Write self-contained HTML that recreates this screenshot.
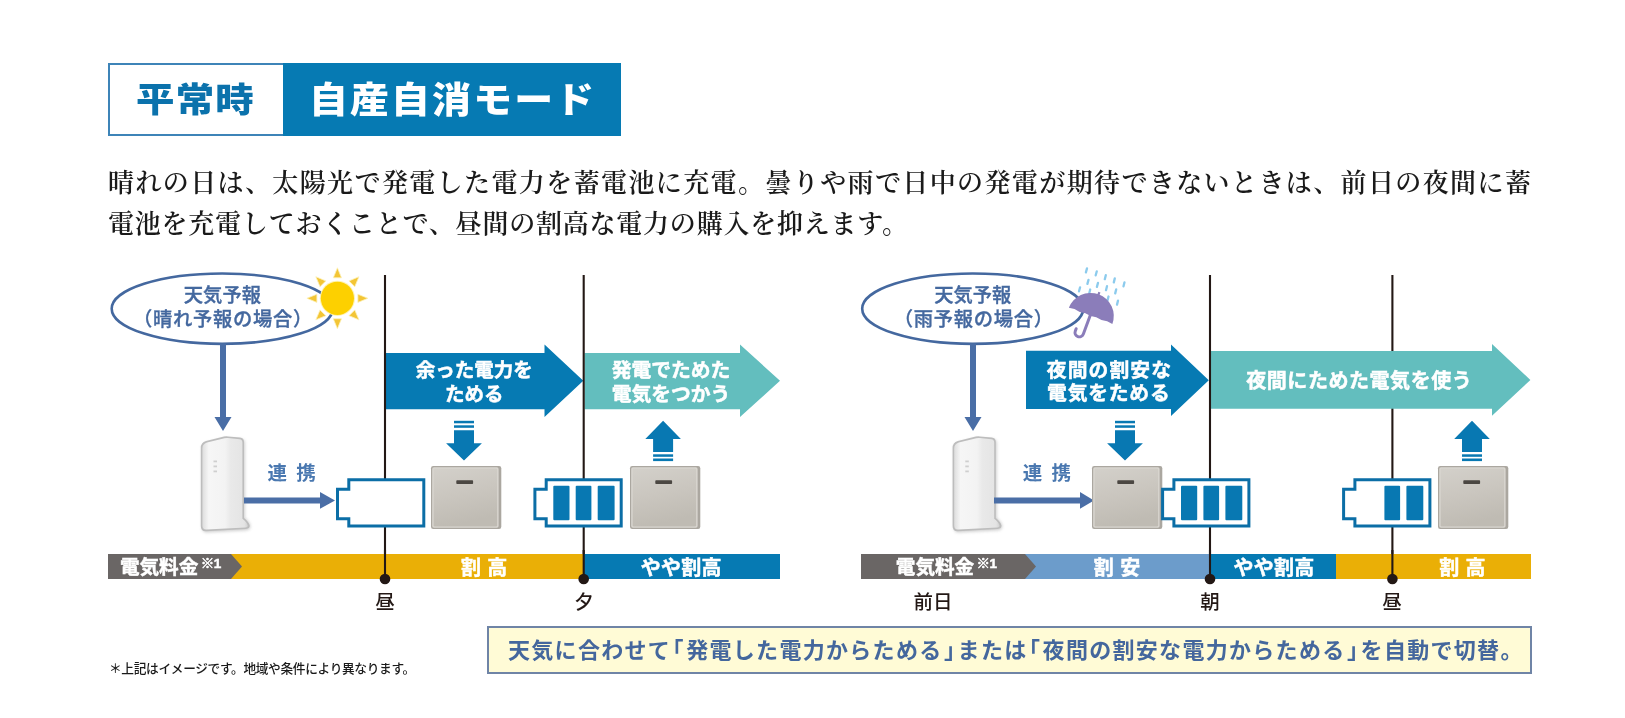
<!DOCTYPE html>
<html lang="ja">
<head>
<meta charset="utf-8">
<title>平常時 自産自消モード</title>
<style>
html,body{margin:0;padding:0;background:#fff;}
body{width:1625px;height:718px;position:relative;overflow:hidden;filter:blur(0.5px);
  font-family:"Liberation Sans","Noto Sans CJK JP","Noto Sans CJK SC",sans-serif;}
.abs{position:absolute;white-space:nowrap;}
.hdr{left:108px;top:63px;width:513px;height:73px;box-sizing:border-box;}
.hdr .l{position:absolute;left:0;top:0;width:176px;height:73px;box-sizing:border-box;border:2px solid #3d84b8;border-right:none;
  color:#0b72ac;font-weight:900;font-size:34px;line-height:70px;white-space:nowrap;}
.hdr .l span{display:inline-block;transform-origin:0 50%;transform:scaleX(1.13);letter-spacing:1.1px;position:absolute;left:25.5px;top:0;}
.hdr .r{position:absolute;left:175px;top:0;width:338px;height:73px;background:#067ab3;color:#fff;font-weight:900;
  font-size:36px;line-height:75px;white-space:nowrap;}
.hdr .r span{display:inline-block;transform-origin:0 50%;transform:scaleX(1.08);letter-spacing:2px;position:absolute;left:25.5px;top:0;}
.para{left:108px;font-family:"Liberation Serif","Noto Serif CJK JP","Noto Serif CJK SC",serif;font-size:26px;line-height:40px;color:#1a1a1a;font-weight:600;}
.note{left:109px;top:661px;font-size:12.7px;line-height:16px;color:#1a1a1a;font-weight:500;letter-spacing:-0.33px;}
.ybox{left:487px;top:625.5px;width:1044.5px;height:48.5px;box-sizing:border-box;border:2px solid #6f84a6;background:#fffbd6;
  color:#44679d;font-weight:700;font-size:22px;line-height:45px;text-align:left;padding-left:19px;letter-spacing:1.3px;}
.ybox i{font-style:normal;font-feature-settings:"halt";margin:0 1.4px;}
svg{position:absolute;left:0;top:0;}
svg text{font-family:"Liberation Sans","Noto Sans CJK JP","Noto Sans CJK SC",sans-serif;}
</style>
</head>
<body>
<div class="abs hdr"><div class="l"><span>平常時</span></div><div class="r"><span>自産自消モード</span></div></div>
<div class="abs para" id="p1" style="top:164px;letter-spacing:1.39px;">晴れの日は、太陽光で発電した電力を蓄電池に充電。曇りや雨で日中の発電が期待できないときは、前日の夜間に蓄</div>
<div class="abs para" id="p2" style="top:205px;letter-spacing:0.78px;">電池を充電しておくことで、昼間の割高な電力の購入を抑えます。</div>

<svg id="dia" width="1625" height="718" viewBox="0 0 1625 718">
<defs>
  <linearGradient id="gUnit" x1="0" y1="0" x2="0.25" y2="1">
    <stop offset="0" stop-color="#d3d0ca"/><stop offset="0.5" stop-color="#cac6bf"/><stop offset="1" stop-color="#bfbbb3"/>
  </linearGradient>
  <linearGradient id="gRouter" x1="0" y1="0" x2="1" y2="0">
    <stop offset="0" stop-color="#dedede"/><stop offset="0.14" stop-color="#f6f6f6"/><stop offset="0.5" stop-color="#f3f3f3"/><stop offset="0.62" stop-color="#e9e9e9"/><stop offset="0.92" stop-color="#e4e4e4"/><stop offset="1" stop-color="#d2d2d2"/>
  </linearGradient>
  <!-- storage unit 70x63 -->
  <g id="unit">
    <rect x="0" y="0" width="70.3" height="63" rx="2.2" fill="#aba7a0"/>
    <rect x="1.2" y="1.2" width="66.4" height="60.6" rx="1.8" fill="#dad7d1"/>
    <rect x="2.6" y="2.6" width="63.6" height="57.8" rx="1.2" fill="url(#gUnit)"/>
    <rect x="25.3" y="14.2" width="16.8" height="3.8" rx="0.8" fill="#4b4742"/>
  </g>
  <!-- router 50x96 -->
  <filter id="soft" x="-30%" y="-10%" width="160%" height="120%"><feGaussianBlur stdDeviation="1.6"/></filter>
  <g id="router">
    <path d="M2 13 Q2 8 7 6.500 L25 2 L41 3 Q45 3.500 45 7 L45 82 Q50 86 50.500 90 Q50.500 94 46 94.500 L7 96.500 Q2 96.500 2 91 Z" fill="#9a9a9a" opacity="0.45" filter="url(#soft)"/>
    <path d="M0.800 12 Q0.800 6.500 6 5 L24 0.600 Q26 0.200 28 0.400 L40 1.600 Q44 2 44 6 L44 82 Q49 86 49.700 89.500 Q49.900 92.500 46 93 L6 95.300 Q0.800 95.500 0.800 90 Z" fill="#bdbdbd"/>
    <path d="M2.400 12.500 Q2.400 8 7 6.600 L24.500 2.300 Q26 2 28 2.100 L39.500 3.200 Q42.400 3.500 42.400 6.500 L42.400 82.800 Q47 86.500 47.800 89.500 Q48 91.300 45.500 91.500 L6.500 93.600 Q2.400 93.800 2.400 89.500 Z" fill="url(#gRouter)"/>
    <rect x="13.500" y="24.500" width="3.500" height="1.800" fill="#cfcfcf"/><rect x="13.500" y="29.500" width="3.500" height="1.800" fill="#cfcfcf"/><rect x="13.500" y="34.500" width="3.500" height="1.800" fill="#cfcfcf"/>
  </g>
  <!-- down arrow, tip at (0,0) pointing down -->
  <g id="darr" fill="#0878b2">
    <rect x="-10" y="-39.8" width="20" height="2.5"/>
    <rect x="-10" y="-35.3" width="20" height="2.5"/>
    <path d="M-10 -30.4 H10 V-17.4 H17.9 L0 0 L-17.9 -17.4 H-10 Z"/>
  </g>
  <g id="uarr" fill="#0878b2">
    <rect x="-10" y="37.7" width="20" height="2.6"/>
    <rect x="-10" y="33.5" width="20" height="2.5"/>
    <path d="M-10 31.2 H10 V18.2 H17.8 L0 0 L-17.8 18.2 H-10 Z"/>
  </g>
</defs>

<!-- ================= LEFT DIAGRAM ================= -->
<!-- vertical guide hidden behind teal arrow -->
<line x1="1392.4" y1="275" x2="1392.4" y2="579" stroke="#231815" stroke-width="2.1"/>
<!-- big arrows -->
<path d="M385.5 353 H544.5 V344.5 L583.3 380.8 L544.5 417 V409.3 H385.5 Z" fill="#067ab3"/>
<path d="M584.5 353 H740 V344.5 L780 380.8 L740 417 V409.3 H584.5 Z" fill="#63bebe"/>
<path d="M1026 350.7 H1171 V344.5 L1208.800 380.300 L1171 416 V409 H1026 Z" fill="#067ab3"/>
<path d="M1210.800 351 H1492 V344 L1530.400 379.900 L1492 415.800 V408.800 H1210.800 Z" fill="#63bebe"/>
<!-- vertical guides -->
<line x1="385" y1="275" x2="385" y2="579" stroke="#231815" stroke-width="2.1"/>
<line x1="583.7" y1="275" x2="583.7" y2="579" stroke="#231815" stroke-width="2.1"/>
<line x1="1210" y1="275" x2="1210" y2="579" stroke="#231815" stroke-width="2.1"/>
<!-- ellipse -->
<ellipse cx="222.2" cy="308.7" rx="110.5" ry="35.2" fill="#fff" stroke="#44689f" stroke-width="2.6"/>
<text x="222.4" y="302" text-anchor="middle" font-size="19.3" font-weight="500" fill="#44689f" stroke="#44689f" stroke-width="0.35">天気予報</text>
<text x="223" y="326.3" text-anchor="middle" font-size="19.3" font-weight="500" fill="#44689f" stroke="#44689f" stroke-width="0.35" letter-spacing="0.7">（晴れ予報の場合）</text>
<!-- sun -->
<g transform="translate(337.4,298.3)">
  <g fill="#f3c535" stroke="#fdf1b8" stroke-width="0.8">
    <path id="ray" d="M-4.1 -20.5 L0 -30.5 L4.1 -20.5 Z"/>
    <use href="#ray" transform="rotate(45)"/><use href="#ray" transform="rotate(90)"/><use href="#ray" transform="rotate(135)"/>
    <use href="#ray" transform="rotate(180)"/><use href="#ray" transform="rotate(225)"/><use href="#ray" transform="rotate(270)"/><use href="#ray" transform="rotate(315)"/>
  </g>
  <circle r="17.6" fill="#fff3b0"/><circle r="16.6" fill="#fdd000"/>
</g>
<!-- arrow down from ellipse -->
<path d="M220 343.5 H226 V417 H231.5 L223 431 L214.5 417 H220 Z" fill="#4a6ea6"/>
<!-- router -->
<use href="#router" x="200" y="436"/>
<!-- link arrow -->
<path d="M244 497.4 H320 V492 L335 500.4 L320 508.8 V503.4 H244 Z" fill="#4a6ea6"/>
<g font-size="19.5" font-weight="700" fill="#4a78b0" text-anchor="middle"><text x="277.3" y="480">連</text><text x="306.1" y="480">携</text></g>
<!-- big arrows -->


<g fill="#fff" stroke="#fff" stroke-width="0.5" font-weight="700" font-size="19.5" text-anchor="middle">
  <text x="474.3" y="377">余った電力を</text>
  <text x="474.3" y="400.5">ためる</text>
  <text x="671" y="377" font-size="19.8">発電でためた</text>
  <text x="671" y="400.5" font-size="19.8">電気をつかう</text>
</g>
<!-- small arrows -->
<use href="#darr" x="464" y="460.6"/>
<use href="#uarr" x="663.1" y="420.8"/>
<!-- empty battery -->
<path d="M348.8 479.7 H423.8 V525.9 H348.8 V518.7 H337.5 V489.3 H348.8 Z" fill="#fff" stroke="#0b6ea6" stroke-width="3"/>
<!-- unit 1 -->
<use href="#unit" x="431" y="466"/>
<!-- full battery -->
<path d="M546.2 479.7 H621.2 V525.9 H546.2 V518.7 H534.9 V489.3 H546.2 Z" fill="#fff" stroke="#0b6ea6" stroke-width="3"/>
<g fill="#0878b2"><rect x="553.3" y="485.8" width="16.2" height="34.5" rx="1"/><rect x="575.7" y="485.8" width="15.7" height="34.5" rx="1"/><rect x="597.7" y="485.8" width="16.9" height="34.5" rx="1"/></g>
<use href="#unit" x="630" y="466"/>
<!-- price bar -->
<rect x="230" y="554" width="354" height="25" fill="#eaaf06"/>
<rect x="584" y="554" width="196" height="25" fill="#067ab3"/>
<path d="M108 554 H231 L242 566.5 L231 579 H108 Z" fill="#6a6665"/>
<g fill="#fff" stroke="#fff" stroke-width="0.5" font-weight="700" text-anchor="middle">
  <text x="159.1" y="574" font-size="19.6">電気料金</text>
  <text x="210.8" y="567.6" font-size="13.5" letter-spacing="-0.5">※1</text>
  <text x="471" y="574.7" font-size="20">割</text><text x="497.2" y="574.7" font-size="20">高</text>
  <text x="681.3" y="574.7" font-size="20" letter-spacing="0.3">やや割高</text>
</g>
<path d="M385 550 V579 M583.7 550 V579" stroke="#231815" stroke-width="2.1" fill="none"/>
<circle cx="385" cy="579" r="5.3" fill="#231815"/>
<circle cx="583.7" cy="579" r="5.3" fill="#231815"/>
<g fill="#231815" font-size="19.5" text-anchor="middle" font-weight="500">
  <text x="385" y="609">昼</text>
  <text x="584" y="609">夕</text>
</g>

<!-- ================= RIGHT DIAGRAM ================= -->
<ellipse cx="972.7" cy="308.7" rx="110.5" ry="35.2" fill="#fff" stroke="#44689f" stroke-width="2.6"/>
<text x="972.8" y="302" text-anchor="middle" font-size="19.3" font-weight="500" fill="#44689f" stroke="#44689f" stroke-width="0.35">天気予報</text>
<text x="973.7" y="326.3" text-anchor="middle" font-size="19.3" font-weight="500" fill="#44689f" stroke="#44689f" stroke-width="0.35" letter-spacing="0.7">（雨予報の場合）</text>
<!-- umbrella + rain -->
<g id="umb">
  <g stroke="#8ccbed" stroke-width="2.3" stroke-linecap="round"><line x1="1087.0" y1="268.4" x2="1085.9" y2="272.4"/><line x1="1096.8" y1="271.3" x2="1095.7" y2="275.3"/><line x1="1105.8" y1="275.2" x2="1104.8" y2="279.2"/><line x1="1114.8" y1="278.4" x2="1113.8" y2="282.4"/><line x1="1124.5" y1="282.3" x2="1123.5" y2="286.3"/><line x1="1088.5" y1="279.9" x2="1087.4" y2="283.9"/><line x1="1098.0" y1="282.9" x2="1096.9" y2="286.9"/><line x1="1107.0" y1="286.2" x2="1106.0" y2="290.2"/><line x1="1116.2" y1="289.4" x2="1115.2" y2="293.4"/><line x1="1080.1" y1="287.3" x2="1079.0" y2="291.3"/><line x1="1090.2" y1="289.5" x2="1089.2" y2="293.5"/><line x1="1108.5" y1="296.5" x2="1107.5" y2="300.5"/><line x1="1118.0" y1="300.6" x2="1117.0" y2="304.6"/></g>
  <g transform="translate(1090.6,315.9) rotate(20.3)">
    <path d="M-0.500 -2 V19.500 a4.300 4.300 0 0 1 -8.600 0 v-2.500" fill="none" stroke="#8b7dba" stroke-width="3" stroke-linecap="round"/>
    <path d="M-23.200 0 A23.200 23 0 0 1 23.200 0 Q17.400 -1.400 11.600 0 Q5.800 -1.400 0 0 Q-5.800 -1.400 -11.600 0 Q-17.400 -1.400 -23.200 0 Z" fill="#8b7dba"/>
    <rect x="-1.100" y="-25.300" width="2.200" height="4" fill="#8b7dba"/>
  </g>
</g>
<path d="M970 343.5 H976 V417 H981.5 L973 431 L964.5 417 H970 Z" fill="#4a6ea6"/>
<use href="#router" x="951.8" y="436"/>
<path d="M994 497.4 H1080 V492 L1094 500.4 L1080 508.8 V503.4 H994 Z" fill="#4a6ea6"/>
<g font-size="19.5" font-weight="700" fill="#4a78b0" text-anchor="middle"><text x="1032.5" y="480">連</text><text x="1061.3" y="480">携</text></g>


<g fill="#fff" stroke="#fff" stroke-width="0.5" font-weight="700" font-size="19.8" text-anchor="middle" letter-spacing="1.1">
  <text x="1109.5" y="377.3">夜間の割安な</text>
  <text x="1108.8" y="400" letter-spacing="0.8">電気をためる</text>
  <text x="1359.3" y="388.3" font-size="20" letter-spacing="0.55">夜間にためた電気を使う</text>
</g>
<use href="#darr" x="1125" y="460.6"/>
<use href="#uarr" x="1472" y="420.8"/>
<use href="#unit" x="1092" y="466"/>
<path d="M1173.9 479.7 H1248.9 V525.9 H1173.9 V518.7 H1162.6 V489.3 H1173.9 Z" fill="#fff" stroke="#0b6ea6" stroke-width="3"/>
<g fill="#0878b2"><rect x="1181" y="485.8" width="16.2" height="34.5" rx="1"/><rect x="1203.4" y="485.8" width="15.7" height="34.5" rx="1"/><rect x="1225.4" y="485.8" width="16.9" height="34.5" rx="1"/></g>
<path d="M1354.9 479.7 H1429.9 V525.9 H1354.9 V518.7 H1343.6 V489.3 H1354.9 Z" fill="#fff" stroke="#0b6ea6" stroke-width="3"/>
<g fill="#0878b2"><rect x="1384.4" y="485.8" width="15.7" height="34.5" rx="1"/><rect x="1406.4" y="485.8" width="16.9" height="34.5" rx="1"/></g>
<use href="#unit" x="1438" y="466"/>
<rect x="1024" y="554" width="186" height="25" fill="#6c9ccb"/>
<rect x="1210" y="554" width="126" height="25" fill="#067ab3"/>
<rect x="1336" y="554" width="195" height="25" fill="#eaaf06"/>
<path d="M861 554 H1025 L1036 566.5 L1025 579 H861 Z" fill="#6a6665"/>
<g fill="#fff" stroke="#fff" stroke-width="0.5" font-weight="700" text-anchor="middle">
  <text x="935" y="574" font-size="19.6">電気料金</text>
  <text x="986.5" y="567.6" font-size="13.5" letter-spacing="-0.5">※1</text>
  <text x="1103.8" y="574.7" font-size="20">割</text><text x="1130.2" y="574.7" font-size="20">安</text>
  <text x="1274" y="574.7" font-size="20" letter-spacing="0.3">やや割高</text>
  <text x="1449.3" y="574.7" font-size="20">割</text><text x="1475.6" y="574.7" font-size="20">高</text>
</g>
<path d="M1210 550 V579 M1392.4 550 V579" stroke="#231815" stroke-width="2.1" fill="none"/>
<circle cx="1210" cy="579" r="5.3" fill="#231815"/>
<circle cx="1392.4" cy="579" r="5.3" fill="#231815"/>
<g fill="#231815" font-size="19.5" text-anchor="middle" font-weight="500">
  <text x="933" y="609">前日</text>
  <text x="1210" y="609">朝</text>
  <text x="1392" y="609">昼</text>
</g>
</svg>

<div class="abs note">＊上記はイメージです。地域や条件により異なります。</div>
<div class="abs ybox">天気に合わせて<i>「</i>発電した電力からためる<i>」</i>または<i>「</i>夜間の割安な電力からためる<i>」</i>を自動で切替。</div>
</body>
</html>
